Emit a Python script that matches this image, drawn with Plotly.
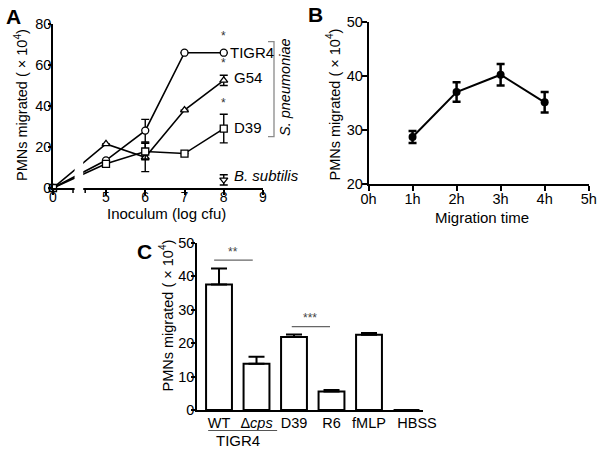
import plotly.graph_objects as go

# ---------------- Data ----------------
# Panel A: PMN migration vs inoculum (log cfu)
inoculum = [0, 5, 6, 7, 8]
tigr4 = [0, 13.5, 28, 66, 66]
tigr4_err = [0, 0, 5.5, 0, 0]
g54 = [0, 21.5, 15, 38, 52.5]
g54_err = [0, 0, 7, 0, 2.5]
d39 = [0, 11.8, 17.8, 16.8, 29]
d39_err = [0, 0, 4, 0, 7]
bsub_x = [8]
bsub = [4]
bsub_err = [2.5]
a_ticks = [0, 5, 6, 7, 8, 9]

# Panel B: time course
hours = [1, 2, 3, 4]
hours_vals = [28.7, 37.0, 40.2, 35.1]
hours_err = [1.1, 1.8, 2.0, 1.9]
b_ticks = [0, 1, 2, 3, 4, 5]
b_ticktext = ["0h", "1h", "2h", "3h", "4h", "5h"]

# Panel C: strains
c_cats = ["WT", "Δ<i>cps</i>", "D39", "R6", "fMLP", "HBSS"]
c_vals = [37.5, 13.8, 21.8, 5.5, 22.5, 0]
c_err = [4.8, 2.1, 0.8, 0.5, 0.5, 0]

# ---------------- Styling ----------------
FONT = "Arial, Liberation Sans, Helvetica, sans-serif"
BREAK_ZERO_POS = 3.65     # display position of the "0" segment of the broken axis
SEG1_END, SEG2_START = 4.16, 4.47
HBSS_LABEL_SHIFT = 0.28   # the HBSS label sits a little right of its slot in the reference

def apos(v):
    return BREAK_ZERO_POS if v == 0 else v

ax_x = [apos(v) for v in inoculum]

fig = go.Figure()

def a_series(y, err, symbol):
    fig.add_trace(go.Scatter(
        x=ax_x, y=y, mode="lines+markers",
        line=dict(color="black", width=1.6),
        marker=dict(symbol=symbol, size=7, color="white", line=dict(color="black", width=1.3)),
        error_y=dict(type="data", array=err, visible=True, color="black", thickness=1.4, width=4),
        cliponaxis=False, xaxis="x", yaxis="y", showlegend=False))

a_series(tigr4, tigr4_err, "circle")
a_series(g54, g54_err, "triangle-up")
a_series(d39, d39_err, "square")
fig.add_trace(go.Scatter(
    x=bsub_x, y=bsub, mode="markers",
    marker=dict(symbol="triangle-down", size=7, color="white", line=dict(color="black", width=1.3)),
    error_y=dict(type="data", array=bsub_err, visible=True, color="black", thickness=1.4, width=4),
    cliponaxis=False, xaxis="x", yaxis="y", showlegend=False))

# Panel B
fig.add_trace(go.Scatter(
    x=hours, y=hours_vals, mode="lines+markers",
    line=dict(color="black", width=2),
    marker=dict(symbol="circle", size=8, color="black"),
    error_y=dict(type="data", array=hours_err, visible=True, color="black", thickness=2.5, width=4),
    cliponaxis=False, xaxis="x2", yaxis="y2", showlegend=False))

# Panel C
c_pos = list(range(len(c_cats)))
fig.add_trace(go.Bar(
    x=c_pos, y=c_vals, width=0.69,
    marker=dict(color="white", line=dict(color="black", width=2)),
    error_y=dict(type="data", symmetric=False, array=c_err, arrayminus=[0] * len(c_err),
                 visible=True, color="black", thickness=2, width=8),
    cliponaxis=False, xaxis="x3", yaxis="y3", showlegend=False))

def axstyle(ticklen=5, standoff=0, tickcolor="black", lw=1.6, size=14.5):
    return dict(showline=True, linecolor="black", linewidth=lw, showgrid=False,
                zeroline=False, ticks="outside", ticklen=ticklen, tickwidth=1.5,
                tickcolor=tickcolor, tickfont=dict(family=FONT, size=size, color="black"),
                tickangle=0, automargin=False, ticklabelstandoff=standoff)

def px2px(x):
    return x / 600.0

def py2p(y):
    return 1 - y / 450.0

c_tickvals = c_pos[:-1] + [c_pos[-1] + HBSS_LABEL_SHIFT]

fig.update_layout(
    width=600, height=450, autosize=False,
    margin=dict(l=0, r=0, t=0, b=0, pad=0, autoexpand=False),
    paper_bgcolor="white", plot_bgcolor="white",
    font=dict(family=FONT, color="black"),
    xaxis=dict(domain=[px2px(53), px2px(263)], range=[BREAK_ZERO_POS, 9], anchor="y",
               tickvals=[apos(v) for v in a_ticks], ticktext=[str(v) for v in a_ticks],
               **axstyle(5, -10, size=14)),
    yaxis=dict(domain=[py2p(188), py2p(24)], range=[0, 80], anchor="x",
               tickvals=[0, 20, 40, 60, 80], **axstyle(3, -6)),
    xaxis2=dict(domain=[px2px(368.5), px2px(588.7)], range=[0, 5], anchor="y2",
                tickvals=b_ticks, ticktext=b_ticktext, **axstyle(5, -4)),
    yaxis2=dict(domain=[py2p(184), py2p(21.7)], range=[20, 50], anchor="x2",
                tickvals=[20, 30, 40, 50], **axstyle(5, -4)),
    xaxis3=dict(domain=[px2px(197), px2px(423)], range=[-0.587, 5.44], anchor="y3",
                tickvals=c_tickvals, ticktext=c_cats,
                **axstyle(3, -4, "rgba(0,0,0,0)", 1.8)),
    yaxis3=dict(domain=[py2p(410), py2p(242.7)], range=[0, 50], anchor="x3",
                tickvals=[0, 10, 20, 30, 40, 50], **axstyle(4, -6)),
)

shapes = []
# Broken-axis gap in panel A
shapes.append(dict(type="rect", xref="x", yref="paper", x0=4.2, x1=4.42,
                   y0=py2p(194), y1=py2p(20), fillcolor="white", line=dict(width=0), layer="above"))
# Segment end ticks of the broken axis
for xv in (SEG1_END, SEG2_START):
    shapes.append(dict(type="line", xref="x", yref="paper", x0=xv, x1=xv,
                       y0=py2p(188), y1=py2p(193), line=dict(color="black", width=1.5), layer="above"))
# S. pneumoniae bracket
gray = "#8a8a8a"
shapes.append(dict(type="path", xref="paper", yref="paper",
                   path=f"M {px2px(268)} {py2p(41.7)} L {px2px(274)} {py2p(41.7)} L {px2px(274)} {py2p(136.7)} L {px2px(268)} {py2p(136.7)}",
                   line=dict(color=gray, width=1.3)))
# Significance lines panel C
shapes.append(dict(type="line", xref="x3", yref="y3", x0=-0.13, x1=0.9, y0=44.8, y1=44.8,
                   line=dict(color="#666", width=1.2)))
shapes.append(dict(type="line", xref="x3", yref="y3", x0=1.94, x1=2.96, y0=24.9, y1=24.9,
                   line=dict(color="#666", width=1.2)))
# TIGR4 group underline
shapes.append(dict(type="line", xref="x3", yref="paper", x0=-0.29, x1=1.55,
                   y0=py2p(430.5), y1=py2p(430.5), line=dict(color="#555", width=1.2)))
fig.update_layout(shapes=shapes)

ann = []
def txt(text, x, y, xref, yref, size=15, xanchor="center", yanchor="middle", angle=0, color="black", bold=False):
    ann.append(dict(text=f"<b>{text}</b>" if bold else text, x=x, y=y, xref=xref, yref=yref,
                    showarrow=False, xanchor=xanchor, yanchor=yanchor, textangle=angle,
                    font=dict(family=FONT, size=size, color=color)))

# Panel letters
txt("A", px2px(13), py2p(16.5), "paper", "paper", size=21, bold=True)
txt("B", px2px(316), py2p(15), "paper", "paper", size=21, bold=True)
txt("C", px2px(144.5), py2p(251.5), "paper", "paper", size=21, bold=True)

# Axis titles
ytitle = "PMNs migrated ( × 10<sup>4</sup>)"
txt(ytitle, px2px(21), py2p(105), "paper", "paper", size=14.5, angle=-90)
txt(ytitle, px2px(333.5), py2p(105), "paper", "paper", size=14.5, angle=-90)
txt(ytitle, px2px(166.5), py2p(316), "paper", "paper", size=14.5, angle=-90)
txt("Inoculum (log cfu)", px2px(166), py2p(214), "paper", "paper", size=15)
txt("Migration time", px2px(482), py2p(217), "paper", "paper", size=15)

# Panel A series labels
txt("TIGR4", 8.1, 66, "x", "y", size=15, xanchor="left")
txt("G54", 8.22, 53.7, "x", "y", size=15, xanchor="left")
txt("D39", 8.22, 29.3, "x", "y", size=15, xanchor="left")
txt("<i>B. subtilis</i>", 8.2, 6, "x", "y", size=15, xanchor="left")
for ys in (74, 61, 41.5):
    txt("*", 8, ys, "x", "y", size=12, color="#333")
txt("<i>S. pneumoniae</i>", px2px(285), py2p(87), "paper", "paper", size=14.5, angle=-90)

# Panel C annotations
txt("**", 0.37, 47.3, "x3", "y3", size=12, color="#444")
txt("***", 2.43, 27.6, "x3", "y3", size=12, color="#444")
txt("TIGR4", px2px(238), py2p(440), "paper", "paper", size=15)

fig.update_layout(annotations=ann)

# remove the default page margin so the 600x450 figure fills the window exactly
fig.write_html("out.html", config={"displayModeBar": False},
               post_script="document.body.style.margin='0';")
